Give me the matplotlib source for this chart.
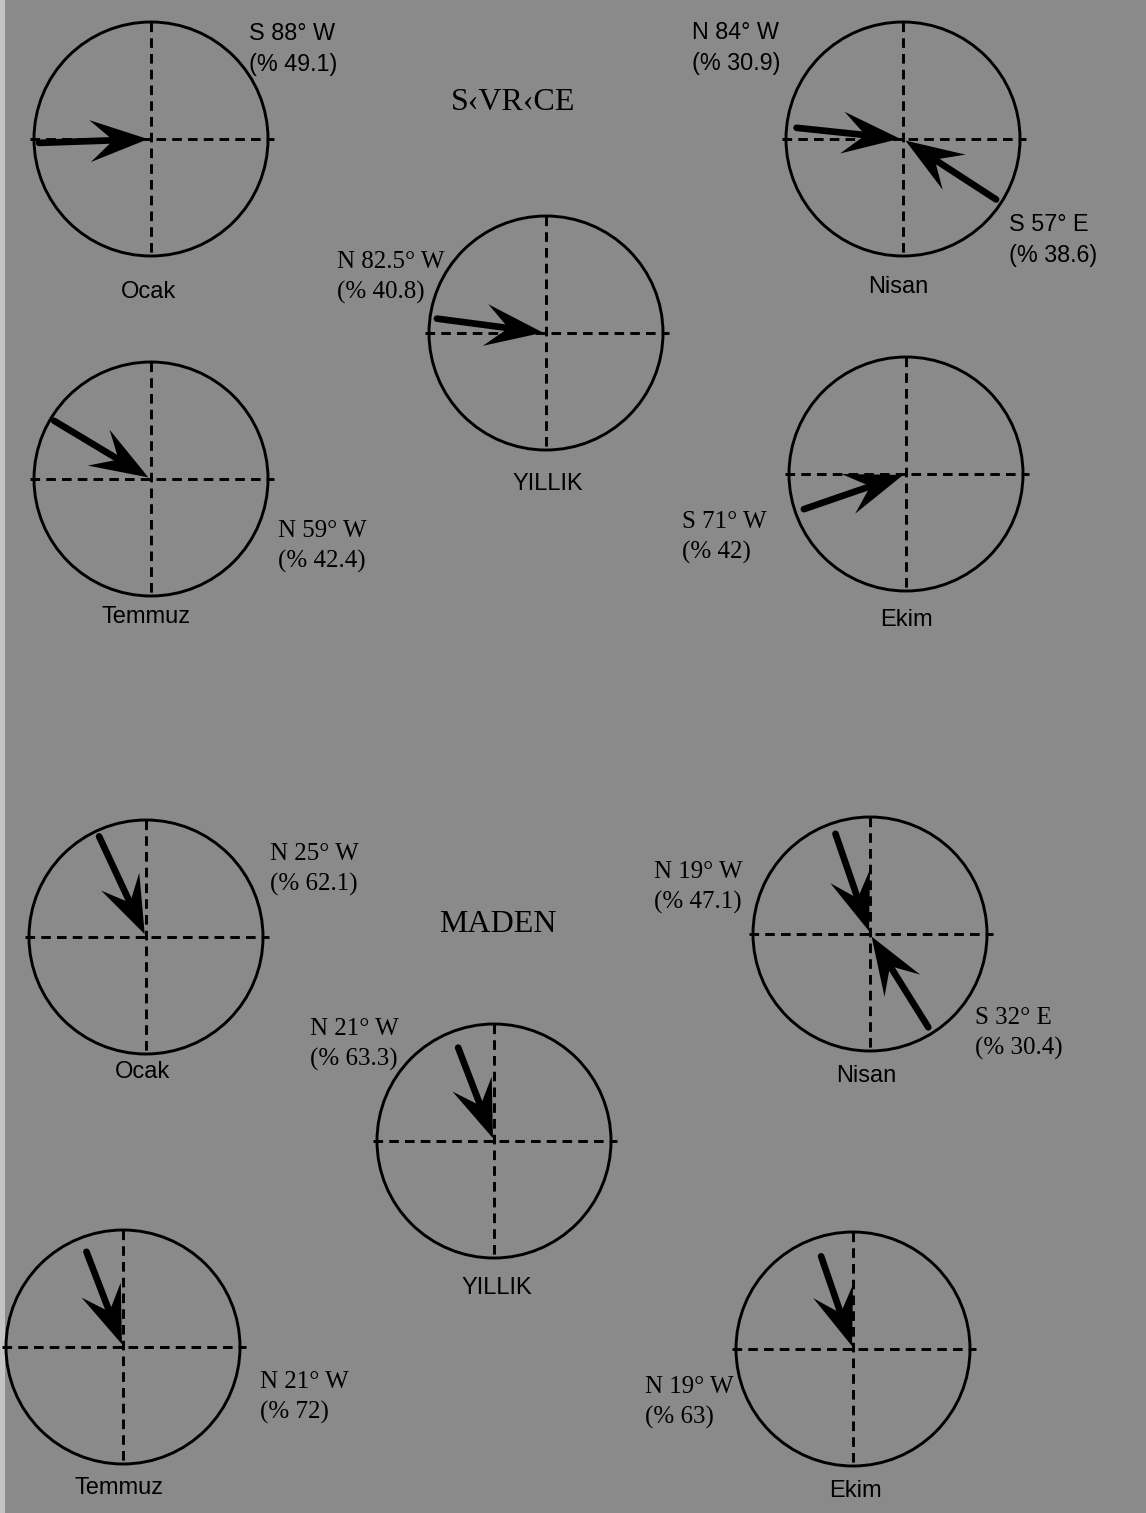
import numpy as np
import matplotlib.pyplot as plt
from matplotlib.patches import Circle, Polygon, Rectangle

# station titles and period names (text as printed on the sheet)
stations = ['S‹VR‹CE', 'MADEN']
periods = ['Ocak', 'Nisan', 'YILLIK', 'Temmuz', 'Ekim']

# prevailing winds per period: (from, angle, towards, percent)
sivrice_winds = [[('S', 88, 'W', 49.1)],
                 [('N', 84, 'W', 30.9), ('S', 57, 'E', 38.6)],
                 [('N', 82.5, 'W', 40.8)],
                 [('N', 59, 'W', 42.4)],
                 [('S', 71, 'W', 42)]]
maden_winds = [[('N', 25, 'W', 62.1)],
               [('N', 19, 'W', 47.1), ('S', 32, 'E', 30.4)],
               [('N', 21, 'W', 63.3)],
               [('N', 21, 'W', 72)],
               [('N', 19, 'W', 63)]]
winds = [sivrice_winds, maden_winds]

# ---- layout (pixel coords, y down) ----
title_pos = [(513, 110), (498, 932)]
centers = [[(151, 139), (903, 139), (546, 333), (151, 479), (906, 474)],
           [(146, 937), (870, 934), (494, 1141), (123, 1347), (853, 1349)]]
name_pos = [[(148, 298), (898, 293), (548, 490), (146, 623), (906, 626)],
            [(143, 1078), (866, 1082), (497, 1294), (119, 1494), (855, 1497)]]
label_pos = [[[(249, 40)], [(692, 39), (1009, 231)], [(337, 268)], [(278, 537)], [(682, 528)]],
             [[(270, 860)], [(654, 878), (975, 1024)], [(310, 1035)], [(260, 1388)], [(645, 1393)]]]
label_font = [[['sans'], ['sans', 'sans'], ['serif'], ['serif'], ['serif']],
              [['serif'], ['serif', 'serif'], ['serif'], ['serif'], ['serif']]]
arrow_len = [[[112], [107, 111], [110], [113], [108]],
             [[111], [106, 110], [100], [102], [98]]]
R = 117
head_len, head_w = 58, 21
bg = '#8a8a8a'

fonts = {'sans': dict(family='Liberation Sans', size=16.8),
         'serif': dict(family='Liberation Serif', size=18)}


def wind_vector(frm, ang, to):
    # unit vector (pixel coords, y down) pointing from centre to where wind blows from
    a = np.radians(ang)
    up = np.cos(a) * (1 if frm == 'N' else -1)
    dx = np.sin(a) * (1 if to == 'E' else -1)
    return np.array([dx, -up])


fig = plt.figure(figsize=(11.46, 15.13), dpi=100, facecolor='#c4c4c4')
ax = fig.add_axes([0, 0, 1, 1])
ax.set_xlim(0, 1146)
ax.set_ylim(1513, 0)
ax.axis('off')
ax.add_patch(Rectangle((5, 0), 1141, 1513, facecolor=bg, edgecolor='none', zorder=0))

for s, station in enumerate(stations):
    ax.text(*title_pos[s], station, family='Liberation Serif', size=23,
            ha='center', va='baseline')
    for p, period in enumerate(periods):
        cx, cy = centers[s][p]
        c = np.array([cx, cy], dtype=float)
        ax.add_patch(Circle((cx, cy), R, fill=False, lw=2.1, color='k', zorder=2))
        ax.plot([cx - R - 4, cx + R + 6], [cy, cy], color='k', lw=2.1,
                ls=(0, (3.3, 2.1)), zorder=2)
        ax.plot([cx, cx], [cy - R, cy + R], color='k', lw=2.1,
                ls=(0, (3.3, 2.1)), zorder=2)
        nx, ny = name_pos[s][p]
        ax.text(nx, ny, period, family='Liberation Sans', size=17,
                ha='center', va='baseline')

        for k, (frm, ang, to, pct) in enumerate(winds[s][p]):
            v = wind_vector(frm, ang, to)
            n = np.array([-v[1], v[0]])
            tip = c + 3 * v
            start = c + arrow_len[s][p][k] * v
            notch = tip + 0.6 * head_len * v
            ax.plot([start[0], notch[0]], [start[1], notch[1]], color='k', lw=4.8,
                    solid_capstyle='round', zorder=3)
            head = [tip, tip + head_len * v + head_w * n, notch,
                    tip + head_len * v - head_w * n]
            ax.add_patch(Polygon(head, closed=True, color='k', lw=0, zorder=3))

            lx, ly = label_pos[s][p][k]
            f = fonts[label_font[s][p][k]]
            ax.text(lx, ly, f'{frm} {ang:g}° {to}', ha='left', va='baseline', **f)
            ax.text(lx, ly + 31, f'(% {pct:g})', ha='left', va='baseline', **f)

fig.savefig('out.png', dpi=100, facecolor=fig.get_facecolor())
